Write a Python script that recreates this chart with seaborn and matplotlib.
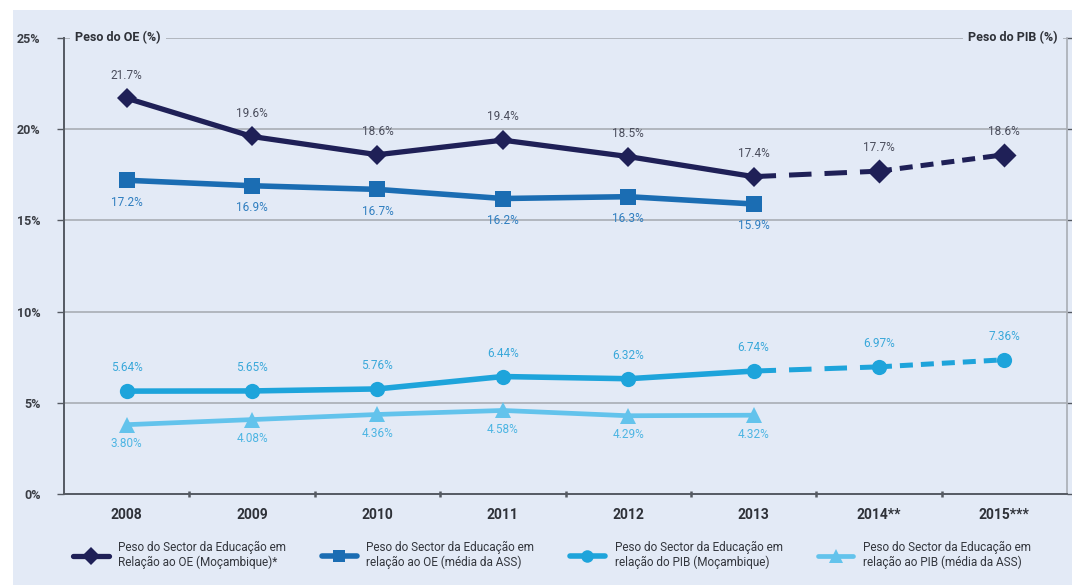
import matplotlib
matplotlib.use('Agg')
import matplotlib.pyplot as plt
import seaborn as sns
import pandas as pd
from matplotlib.lines import Line2D
from matplotlib.patches import Rectangle

# ---------------- data ----------------
years = ['2008', '2009', '2010', '2011', '2012', '2013', '2014**', '2015***']
oe_moz = [21.7, 19.6, 18.6, 19.4, 18.5, 17.4, 17.7, 18.6]
oe_ass = [17.2, 16.9, 16.7, 16.2, 16.3, 15.9]
pib_moz = [5.64, 5.65, 5.76, 6.44, 6.32, 6.74, 6.97, 7.36]
pib_ass = [3.80, 4.08, 4.36, 4.58, 4.29, 4.32]
n_actual = 6  # 2008-2013 observed, 2014-2015 projected
y_ticks = [0, 5, 10, 15, 20, 25]
y_ticklabels = ['0%', '5%', '10%', '15%', '20%', '25%']
legend_labels = [
    'Peso do Sector da Educação em\nRelação ao OE (Moçambique)*',
    'Peso do Sector da Educação em\nrelação ao OE (média da ASS)',
    'Peso do Sector da Educação em\nrelação do PIB (Moçambique)',
    'Peso do Sector da Educação em\nrelação ao PIB (média da ASS)',
]

def fmt1(v):
    return f'{v:.1f}%'

def fmt2(v):
    return f'{v:.2f}%'

# ---------------- style ----------------
sns.set_theme(style='white')
FONT = ['Liberation Sans Narrow', 'Roboto', 'DejaVu Sans']
plt.rcParams['font.family'] = FONT

BG = '#e3eaf6'
C1 = '#1f2057'
C2 = '#1b6db3'
C3 = '#1ea4db'
C4 = '#63c3ec'
GRID = '#a9adb4'
AXC = '#555a62'

fig = plt.figure(figsize=(10.72, 5.85), dpi=100, facecolor=BG)
# white margins as in the scanned reference
fig.patches.append(Rectangle((0, 1 - 10 / 585), 1, 10 / 585, transform=fig.transFigure,
                             facecolor='white', edgecolor='none', zorder=0))
fig.patches.append(Rectangle((0, 0), 13 / 1072, 1, transform=fig.transFigure,
                             facecolor='white', edgecolor='none', zorder=0))

ax = fig.add_axes([64 / 1072, 1 - 494 / 585, (1067 - 64) / 1072, (494 - 38) / 585])
ax.set_facecolor(BG)

x_all = list(range(len(years)))
df1 = pd.DataFrame({'x': x_all[:n_actual], 'y': oe_moz[:n_actual]})
df2 = pd.DataFrame({'x': x_all[:len(oe_ass)], 'y': oe_ass})
df3 = pd.DataFrame({'x': x_all[:n_actual], 'y': pib_moz[:n_actual]})
df4 = pd.DataFrame({'x': x_all[:len(pib_ass)], 'y': pib_ass})

# gridlines
for yt in y_ticks[1:]:
    ax.axhline(yt, color=GRID, lw=1.2, zorder=1)

# projected dashed segments
def dashed(vals, color, ms, marker):
    seg1 = pd.DataFrame({'x': x_all[n_actual - 1:n_actual + 1], 'y': vals[n_actual - 1:n_actual + 1]})
    seg2 = pd.DataFrame({'x': x_all[n_actual:n_actual + 2], 'y': vals[n_actual:n_actual + 2]})
    sns.lineplot(data=seg1, x='x', y='y', ax=ax, color=color, lw=3.6, zorder=3,
                 linestyle=(0, (4.5, 2.6)))
    sns.lineplot(data=seg2, x='x', y='y', ax=ax, color=color, lw=3.6, zorder=3,
                 linestyle=(0, (2.6, 1.6)))
    seg3 = pd.DataFrame({'x': x_all[n_actual:], 'y': vals[n_actual:]})
    sns.scatterplot(data=seg3, x='x', y='y', ax=ax, color=color, marker=marker,
                    s=ms, edgecolor=color, linewidth=0, zorder=4)

dashed(oe_moz, C1, 150, 'D')
dashed(pib_moz, C3, 120, 'o')

sns.lineplot(data=df1, x='x', y='y', ax=ax, color=C1, lw=3.8, marker='D', markersize=10,
             markeredgewidth=0, zorder=4)
sns.lineplot(data=df2, x='x', y='y', ax=ax, color=C2, lw=4.0, marker='s', markersize=11,
             markeredgewidth=0, zorder=4)
sns.lineplot(data=df3, x='x', y='y', ax=ax, color=C3, lw=4.0, marker='o', markersize=11,
             markeredgewidth=0, zorder=4)
sns.lineplot(data=df4, x='x', y='y', ax=ax, color=C4, lw=3.4, marker='^', markersize=12,
             markeredgewidth=0, zorder=4)

# data labels
lab_kw = dict(ha='center', fontsize=8.5, zorder=5)
for i, v in enumerate(oe_moz):
    ax.annotate(fmt1(v), (i, v), xytext=(0, 12), textcoords='offset points',
                va='bottom', color='#4a4d5c', **lab_kw)
for i, v in enumerate(oe_ass):
    ax.annotate(fmt1(v), (i, v), xytext=(0, -11), textcoords='offset points',
                va='top', color='#2f7ec0', **lab_kw)
for i, v in enumerate(pib_moz):
    ax.annotate(fmt2(v), (i, v), xytext=(0, 12), textcoords='offset points',
                va='bottom', color='#3aa8da', **lab_kw)
for i, v in enumerate(pib_ass):
    ax.annotate(fmt2(v), (i, v), xytext=(0, -9), textcoords='offset points',
                va='top', color='#4db5e3', **lab_kw)

# axes
ax.set_xlim(-0.5, len(years) - 0.5)
ax.set_ylim(0, 25)
ax.set_xticks(x_all)
ax.set_xticklabels(years, fontsize=10, fontweight='bold', color='#2e3138')
ax.set_xticks([i + 0.5 for i in range(len(years) - 1)], minor=True)
ax.set_yticks(y_ticks)
ax.set_yticklabels(y_ticklabels, fontsize=9, fontweight='bold', color='#3a3d44')
ax.tick_params(axis='x', which='major', length=0, pad=10, bottom=True)
ax.tick_params(axis='x', which='minor', length=5, width=1.8, color=AXC, direction='inout', bottom=True)
ax.tick_params(axis='y', which='major', length=5, width=1.0, color=AXC, direction='out', pad=12,
               left=True, right=True)
ax.set_xlabel('')
ax.set_ylabel('')

for side in ['top']:
    ax.spines[side].set_visible(False)
ax.spines['left'].set_color(AXC)
ax.spines['left'].set_linewidth(1.4)
ax.spines['bottom'].set_color(AXC)
ax.spines['bottom'].set_linewidth(1.4)
ax.spines['right'].set_color(GRID)
ax.spines['right'].set_linewidth(1.2)

# axis titles on top gridline
ax.text(0.011, 25, 'Peso do OE (%)', transform=ax.get_yaxis_transform(), ha='left', va='center',
        fontsize=9, fontweight='bold', color='#2e3138', zorder=6,
        bbox=dict(facecolor=BG, edgecolor='none', pad=4))
ax.text(0.991, 25, 'Peso do PIB (%)', transform=ax.get_yaxis_transform(), ha='right', va='center',
        fontsize=9, fontweight='bold', color='#2e3138', zorder=6,
        bbox=dict(facecolor=BG, edgecolor='none', pad=4))

# legend
handles = [
    Line2D([], [], color=C1, lw=3.8, marker='D', markersize=9, markeredgewidth=0),
    Line2D([], [], color=C2, lw=4.0, marker='s', markersize=9, markeredgewidth=0),
    Line2D([], [], color=C3, lw=4.0, marker='o', markersize=9, markeredgewidth=0),
    Line2D([], [], color=C4, lw=3.4, marker='^', markersize=10, markeredgewidth=0),
]
leg = fig.legend(handles, legend_labels, loc='center', bbox_to_anchor=(0.515, 1 - 555 / 585),
                 ncol=4, frameon=False, fontsize=8.5, handlelength=3.0, handletextpad=0.8,
                 columnspacing=3.0, labelcolor='#33363d')

fig.savefig('out.png', dpi=100, facecolor=BG)
